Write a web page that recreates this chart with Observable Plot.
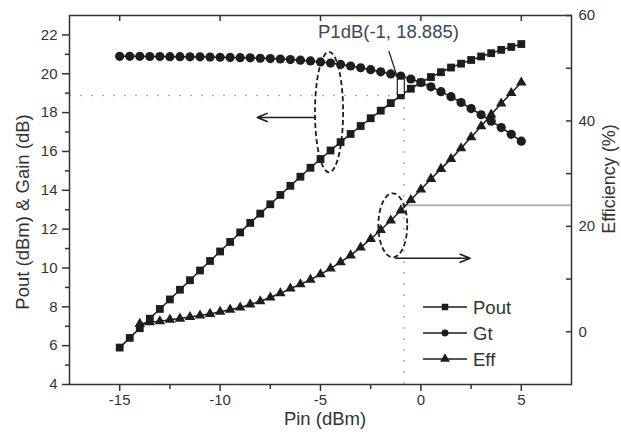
<!DOCTYPE html>
<html><head><meta charset="utf-8">
<script src="https://cdn.jsdelivr.net/npm/d3@7"></script>
<script src="https://cdn.jsdelivr.net/npm/@observablehq/plot@0.6"></script>
<style>body{margin:0;background:#fff} svg{display:block}</style>
</head><body><div id="chart"></div>
<script>
// ---- data ----
const pin = [-15,-14.5,-14,-13.5,-13,-12.5,-12,-11.5,-11,-10.5,-10,-9.5,-9,-8.5,-8,-7.5,-7,-6.5,-6,-5.5,-5,-4.5,-4,-3.5,-3,-2.5,-2,-1.5,-1,-0.5,0,0.5,1,1.5,2,2.5,3,3.5,4,4.5,5];
const pout = [5.90,6.40,6.90,7.39,7.89,8.38,8.88,9.37,9.87,10.36,10.85,11.34,11.83,12.32,12.80,13.28,13.76,14.23,14.70,15.16,15.61,16.05,16.48,16.90,17.31,17.71,18.10,18.49,18.885,19.23,19.55,19.83,20.08,20.32,20.52,20.71,20.89,21.06,21.23,21.38,21.53];
const gain = [20.90,20.90,20.90,20.89,20.89,20.88,20.88,20.87,20.87,20.86,20.85,20.84,20.83,20.82,20.80,20.78,20.76,20.73,20.70,20.66,20.61,20.55,20.48,20.40,20.31,20.21,20.10,19.99,19.885,19.73,19.55,19.33,19.08,18.82,18.52,18.21,17.89,17.56,17.23,16.88,16.53];
const effPin = [-14,-13.5,-13,-12.5,-12,-11.5,-11,-10.5,-10,-9.5,-9,-8.5,-8,-7.5,-7,-6.5,-6,-5.5,-5,-4.5,-4,-3.5,-3,-2.5,-2,-1.5,-1,-0.5,0,0.5,1,1.5,2,2.5,3,3.5,4,4.5,5];
const eff = [1.5,1.8,2.0,2.3,2.5,2.8,3.1,3.4,3.8,4.2,4.6,5.2,5.8,6.5,7.3,8.2,9.0,9.9,10.9,12.0,13.2,14.5,16.0,17.6,19.3,21.1,23.0,25.0,27.0,29.0,30.9,32.8,34.8,36.9,39.0,41.2,43.3,45.3,47.3];

const xDomain = [-17.5, 7.5];
const leftDomain = [4, 23];
const rightDomain = [-10, 60];
const xMajor = [-15, -10, -5, 0, 5];
const xMinor = [-12.5, -7.5, -2.5, 2.5];
const leftMajor = [4, 6, 8, 10, 12, 14, 16, 18, 20, 22];
const leftMinor = [5, 7, 9, 11, 13, 15, 17, 19, 21];
const rightMajor = [0, 20, 40, 60];
const rightMinor = [10, 30, 50];

const p1dbPin = -0.85, p1dbOut = 18.885, p1dbEff = 24;
const p1dbLabel = "P1dB(-1, 18.885)";
const legendNames = ["Pout", "Gt", "Eff"];
const legendSymbols = ["square", "circle", "triangle"];

// annotation shapes (data units, left axis)
const ellipses = [{cx: -4.55, cy: 18.0, rx: 0.7, ry: 3.1}, {cx: -1.375, cy: 12.17, rx: 0.72, ry: 1.65}];
const arrows = [{x1: -5.25, y1: 17.75, x2: -8.15, y2: 17.75}, {x1: -1.25, y1: 10.5, x2: 2.45, y2: 10.5}];
const leader = [{x1: -1.6, y1: 21.18, x2: -1.15, y2: 19.74}];
const marker = [{x1: -1.15, x2: -0.8, y1: 18.9, y2: 19.7}];

// ---- helpers ----
const toLeft = e => leftDomain[0] + (e - rightDomain[0]) * (leftDomain[1] - leftDomain[0]) / (rightDomain[1] - rightDomain[0]);
const fromLeft = v => Math.round(rightDomain[0] + (v - leftDomain[0]) * (rightDomain[1] - rightDomain[0]) / (leftDomain[1] - leftDomain[0]));
const rows = pin.map((p, i) => ({pin: p, pout: pout[i], gain: gain[i]}));
const effRows = effPin.map((p, i) => ({pin: p, eff: toLeft(eff[i])}));

const ink = "#1d1d1d";
const axisInk = "#333";
const font = "'Liberation Sans', Arial, Helvetica, sans-serif";

const chart = Plot.plot({
  width: 621, height: 434,
  marginLeft: 69, marginRight: 50, marginTop: 15, marginBottom: 50,
  x: {domain: xDomain},
  y: {domain: leftDomain},
  style: {fontFamily: font, color: axisInk, background: "white"},
  marks: [
    Plot.ruleY([p1dbOut], {x1: xDomain[0], x2: p1dbPin, stroke: "#a9b1ba", strokeWidth: 1.5, strokeDasharray: "2,9"}),
    Plot.ruleX([p1dbPin], {y1: leftDomain[0], y2: p1dbOut, stroke: "#a9b1ba", strokeWidth: 1.5, strokeDasharray: "2,9"}),
    Plot.ruleY([toLeft(p1dbEff)], {x1: -1, x2: xDomain[1], stroke: "#b5b5b5", strokeWidth: 2}),

    Plot.line(rows, {x: "pin", y: "pout", stroke: ink, strokeWidth: 1.5}),
    Plot.dot(rows, {x: "pin", y: "pout", symbol: "square", r: 4.4, fill: ink}),
    Plot.line(rows, {x: "pin", y: "gain", stroke: ink, strokeWidth: 1.5}),
    Plot.dot(rows, {x: "pin", y: "gain", symbol: "circle", r: 4.6, fill: ink}),
    Plot.line(effRows, {x: "pin", y: "eff", stroke: ink, strokeWidth: 1.5}),
    Plot.dot(effRows, {x: "pin", y: "eff", symbol: "triangle", r: 3.9, fill: ink}),

    Plot.rect(marker, {x1: "x1", x2: "x2", y1: "y1", y2: "y2", fill: "white", stroke: ink, strokeWidth: 1.2}),
    Plot.link(leader, {x1: "x1", y1: "y1", x2: "x2", y2: "y2", stroke: ink, strokeWidth: 1.3}),
    Plot.arrow(arrows, {x1: "x1", y1: "y1", x2: "x2", y2: "y2", stroke: ink, strokeWidth: 1.6, headLength: 10, headAngle: 45}),

    Plot.frame({stroke: axisInk, strokeWidth: 1.5}),
    Plot.axisX(xMajor, {anchor: "bottom", tickSize: 7, tickPadding: 3, fontSize: 15, label: null, stroke: axisInk, strokeWidth: 1.5, tickFormat: d => String(d)}),
    Plot.axisX(xMinor, {anchor: "bottom", tickSize: 5, label: null, stroke: axisInk, strokeWidth: 1.5, tickFormat: () => ""}),
    Plot.axisX(xMajor, {anchor: "top", tickSize: 5, insetTop: 5, label: null, stroke: axisInk, strokeWidth: 1.5, tickFormat: () => ""}),
    Plot.axisY(leftMajor, {anchor: "left", tickSize: 7, tickPadding: 5, fontSize: 15, label: null, stroke: axisInk, strokeWidth: 1.5, tickFormat: d => String(d)}),
    Plot.axisY(leftMinor, {anchor: "left", tickSize: 4, label: null, stroke: axisInk, strokeWidth: 1.5, tickFormat: () => ""}),
    Plot.axisY(rightMajor.map(toLeft), {anchor: "right", tickSize: 6, insetRight: 6, tickPadding: 7, fontSize: 15, label: null, stroke: axisInk, strokeWidth: 1.5, tickFormat: d => String(fromLeft(d))}),
    Plot.axisY(rightMinor.map(toLeft), {anchor: "right", tickSize: 6, insetRight: 6, label: null, stroke: axisInk, strokeWidth: 1.5, tickFormat: () => ""})
  ]
});

document.getElementById("chart").appendChild(chart);

// ---- annotations & titles ----
const sx = chart.scale("x"), sy = chart.scale("y");
const X = v => sx.apply(v), Y = v => sy.apply(v);
const svg = d3.select(chart);
const g = svg.append("g").attr("text-anchor", "start");

ellipses.forEach(e => {
  g.append("ellipse")
    .attr("cx", X(e.cx)).attr("cy", Y(e.cy))
    .attr("rx", X(e.cx + e.rx) - X(e.cx)).attr("ry", Y(e.cy) - Y(e.cy + e.ry))
    .attr("fill", "none").attr("stroke", ink).attr("stroke-width", 1.8).attr("stroke-dasharray", "5,3");
});

const title = (txt, x, y, rot, anchor, color, size) => {
  g.append("text").text(txt)
    .attr("transform", `translate(${x},${y})` + (rot ? ` rotate(${rot})` : ""))
    .attr("text-anchor", anchor).attr("font-family", font).attr("font-size", size || 18.5)
    .attr("fill", color || axisInk);
};
title("Pout (dBm) & Gain (dB)", 29, 212, -90, "middle");
title("Efficiency (%)", 615, 179, -90, "middle", axisInk, 18);
title("Pin (dBm)", 325, 425, 0, "middle");
title(p1dbLabel, 318, 38, 0, "start", "#35495c");

// legend
const lx0 = 423, lx1 = 467, lmx = 445, ltx = 473, ly = [307, 333, 359];
legendNames.forEach((name, i) => {
  g.append("line").attr("x1", lx0).attr("x2", lx1).attr("y1", ly[i]).attr("y2", ly[i]).attr("stroke", ink).attr("stroke-width", 1.6);
  const sym = {square: d3.symbolSquare, circle: d3.symbolCircle, triangle: d3.symbolTriangle}[legendSymbols[i]];
  g.append("path").attr("d", d3.symbol(sym, [42, 38, 42][i])()).attr("transform", `translate(${lmx},${ly[i]})`).attr("fill", ink);
  g.append("text").text(name).attr("x", ltx).attr("y", ly[i] + 6.5).attr("text-anchor", "start")
    .attr("font-family", font).attr("font-size", 18.5).attr("fill", axisInk);
});
</script>
</body></html>
